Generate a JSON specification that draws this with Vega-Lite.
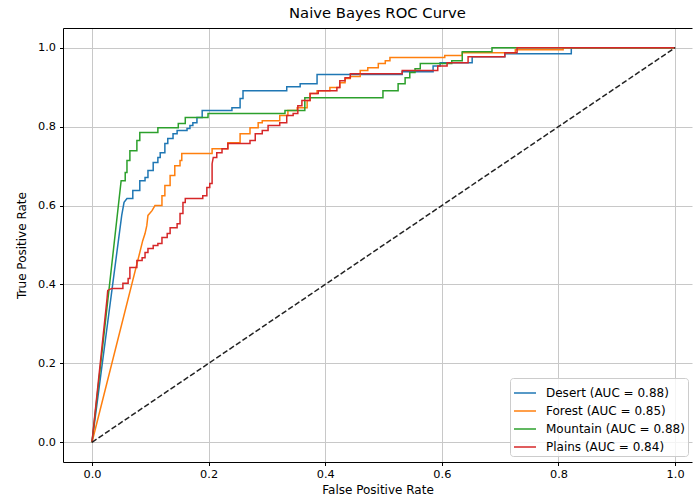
{
  "$schema": "https://vega.github.io/schema/vega-lite/v6.json",
  "autosize": "none",
  "padding": {"left": 63, "top": 28, "right": 1, "bottom": 37},
  "width": 629,
  "height": 434,
  "title": {"text": "Naive Bayes ROC Curve", "fontSize": 14.8, "font": "DejaVu Sans", "fontWeight": "normal", "offset": 7, "color": "#000"},
  "config": {"view": {"stroke": null}, "font": "DejaVu Sans"},
  "resolve": {"axis": {"x": "independent"}},
  "layer": [
    {
      "data": {"values": [
        {"c":"Desert (AUC = 0.88)","x":0,"y":0},{"c":"Desert (AUC = 0.88)","x":0.051,"y":0.575},{"c":"Desert (AUC = 0.88)","x":0.055,"y":0.608},{"c":"Desert (AUC = 0.88)","x":0.060,"y":0.618},{"c":"Desert (AUC = 0.88)","x":0.070,"y":0.618},{"c":"Desert (AUC = 0.88)","x":0.070,"y":0.638},{"c":"Desert (AUC = 0.88)","x":0.082,"y":0.638},{"c":"Desert (AUC = 0.88)","x":0.082,"y":0.663},{"c":"Desert (AUC = 0.88)","x":0.091,"y":0.663},{"c":"Desert (AUC = 0.88)","x":0.091,"y":0.671},{"c":"Desert (AUC = 0.88)","x":0.096,"y":0.671},{"c":"Desert (AUC = 0.88)","x":0.096,"y":0.689},{"c":"Desert (AUC = 0.88)","x":0.105,"y":0.689},{"c":"Desert (AUC = 0.88)","x":0.105,"y":0.709},{"c":"Desert (AUC = 0.88)","x":0.113,"y":0.709},{"c":"Desert (AUC = 0.88)","x":0.113,"y":0.722},{"c":"Desert (AUC = 0.88)","x":0.117,"y":0.722},{"c":"Desert (AUC = 0.88)","x":0.117,"y":0.734},{"c":"Desert (AUC = 0.88)","x":0.125,"y":0.734},{"c":"Desert (AUC = 0.88)","x":0.125,"y":0.757},{"c":"Desert (AUC = 0.88)","x":0.130,"y":0.757},{"c":"Desert (AUC = 0.88)","x":0.130,"y":0.770},{"c":"Desert (AUC = 0.88)","x":0.139,"y":0.770},{"c":"Desert (AUC = 0.88)","x":0.139,"y":0.782},{"c":"Desert (AUC = 0.88)","x":0.146,"y":0.782},{"c":"Desert (AUC = 0.88)","x":0.146,"y":0.790},{"c":"Desert (AUC = 0.88)","x":0.163,"y":0.790},{"c":"Desert (AUC = 0.88)","x":0.163,"y":0.795},{"c":"Desert (AUC = 0.88)","x":0.168,"y":0.795},{"c":"Desert (AUC = 0.88)","x":0.168,"y":0.803},{"c":"Desert (AUC = 0.88)","x":0.173,"y":0.803},{"c":"Desert (AUC = 0.88)","x":0.173,"y":0.810},{"c":"Desert (AUC = 0.88)","x":0.180,"y":0.810},{"c":"Desert (AUC = 0.88)","x":0.180,"y":0.823},{"c":"Desert (AUC = 0.88)","x":0.189,"y":0.823},{"c":"Desert (AUC = 0.88)","x":0.189,"y":0.841},{"c":"Desert (AUC = 0.88)","x":0.240,"y":0.841},{"c":"Desert (AUC = 0.88)","x":0.240,"y":0.848},{"c":"Desert (AUC = 0.88)","x":0.254,"y":0.848},{"c":"Desert (AUC = 0.88)","x":0.254,"y":0.871},{"c":"Desert (AUC = 0.88)","x":0.259,"y":0.871},{"c":"Desert (AUC = 0.88)","x":0.259,"y":0.891},{"c":"Desert (AUC = 0.88)","x":0.334,"y":0.891},{"c":"Desert (AUC = 0.88)","x":0.334,"y":0.901},{"c":"Desert (AUC = 0.88)","x":0.357,"y":0.901},{"c":"Desert (AUC = 0.88)","x":0.357,"y":0.909},{"c":"Desert (AUC = 0.88)","x":0.386,"y":0.909},{"c":"Desert (AUC = 0.88)","x":0.386,"y":0.932},{"c":"Desert (AUC = 0.88)","x":0.532,"y":0.932},{"c":"Desert (AUC = 0.88)","x":0.532,"y":0.939},{"c":"Desert (AUC = 0.88)","x":0.585,"y":0.939},{"c":"Desert (AUC = 0.88)","x":0.585,"y":0.954},{"c":"Desert (AUC = 0.88)","x":0.597,"y":0.954},{"c":"Desert (AUC = 0.88)","x":0.597,"y":0.962},{"c":"Desert (AUC = 0.88)","x":0.652,"y":0.962},{"c":"Desert (AUC = 0.88)","x":0.652,"y":0.977},{"c":"Desert (AUC = 0.88)","x":0.708,"y":0.977},{"c":"Desert (AUC = 0.88)","x":0.708,"y":0.985},{"c":"Desert (AUC = 0.88)","x":0.822,"y":0.985},{"c":"Desert (AUC = 0.88)","x":0.822,"y":1.0},{"c":"Desert (AUC = 0.88)","x":1.0,"y":1.0},
        {"c":"Forest (AUC = 0.85)","x":0,"y":0},{"c":"Forest (AUC = 0.85)","x":0.082,"y":0.481},{"c":"Forest (AUC = 0.85)","x":0.087,"y":0.511},{"c":"Forest (AUC = 0.85)","x":0.091,"y":0.529},{"c":"Forest (AUC = 0.85)","x":0.094,"y":0.549},{"c":"Forest (AUC = 0.85)","x":0.096,"y":0.575},{"c":"Forest (AUC = 0.85)","x":0.103,"y":0.587},{"c":"Forest (AUC = 0.85)","x":0.108,"y":0.600},{"c":"Forest (AUC = 0.85)","x":0.120,"y":0.600},{"c":"Forest (AUC = 0.85)","x":0.120,"y":0.625},{"c":"Forest (AUC = 0.85)","x":0.125,"y":0.625},{"c":"Forest (AUC = 0.85)","x":0.125,"y":0.651},{"c":"Forest (AUC = 0.85)","x":0.134,"y":0.651},{"c":"Forest (AUC = 0.85)","x":0.134,"y":0.676},{"c":"Forest (AUC = 0.85)","x":0.142,"y":0.676},{"c":"Forest (AUC = 0.85)","x":0.142,"y":0.701},{"c":"Forest (AUC = 0.85)","x":0.151,"y":0.701},{"c":"Forest (AUC = 0.85)","x":0.151,"y":0.714},{"c":"Forest (AUC = 0.85)","x":0.154,"y":0.714},{"c":"Forest (AUC = 0.85)","x":0.154,"y":0.732},{"c":"Forest (AUC = 0.85)","x":0.206,"y":0.732},{"c":"Forest (AUC = 0.85)","x":0.206,"y":0.744},{"c":"Forest (AUC = 0.85)","x":0.233,"y":0.744},{"c":"Forest (AUC = 0.85)","x":0.233,"y":0.759},{"c":"Forest (AUC = 0.85)","x":0.254,"y":0.759},{"c":"Forest (AUC = 0.85)","x":0.254,"y":0.782},{"c":"Forest (AUC = 0.85)","x":0.271,"y":0.782},{"c":"Forest (AUC = 0.85)","x":0.271,"y":0.797},{"c":"Forest (AUC = 0.85)","x":0.285,"y":0.797},{"c":"Forest (AUC = 0.85)","x":0.285,"y":0.810},{"c":"Forest (AUC = 0.85)","x":0.292,"y":0.810},{"c":"Forest (AUC = 0.85)","x":0.292,"y":0.815},{"c":"Forest (AUC = 0.85)","x":0.322,"y":0.815},{"c":"Forest (AUC = 0.85)","x":0.322,"y":0.828},{"c":"Forest (AUC = 0.85)","x":0.336,"y":0.828},{"c":"Forest (AUC = 0.85)","x":0.336,"y":0.841},{"c":"Forest (AUC = 0.85)","x":0.352,"y":0.841},{"c":"Forest (AUC = 0.85)","x":0.352,"y":0.848},{"c":"Forest (AUC = 0.85)","x":0.369,"y":0.848},{"c":"Forest (AUC = 0.85)","x":0.369,"y":0.866},{"c":"Forest (AUC = 0.85)","x":0.374,"y":0.866},{"c":"Forest (AUC = 0.85)","x":0.374,"y":0.884},{"c":"Forest (AUC = 0.85)","x":0.386,"y":0.884},{"c":"Forest (AUC = 0.85)","x":0.386,"y":0.891},{"c":"Forest (AUC = 0.85)","x":0.408,"y":0.891},{"c":"Forest (AUC = 0.85)","x":0.408,"y":0.899},{"c":"Forest (AUC = 0.85)","x":0.425,"y":0.899},{"c":"Forest (AUC = 0.85)","x":0.425,"y":0.911},{"c":"Forest (AUC = 0.85)","x":0.434,"y":0.911},{"c":"Forest (AUC = 0.85)","x":0.434,"y":0.922},{"c":"Forest (AUC = 0.85)","x":0.443,"y":0.922},{"c":"Forest (AUC = 0.85)","x":0.443,"y":0.927},{"c":"Forest (AUC = 0.85)","x":0.460,"y":0.927},{"c":"Forest (AUC = 0.85)","x":0.460,"y":0.942},{"c":"Forest (AUC = 0.85)","x":0.473,"y":0.942},{"c":"Forest (AUC = 0.85)","x":0.473,"y":0.949},{"c":"Forest (AUC = 0.85)","x":0.491,"y":0.949},{"c":"Forest (AUC = 0.85)","x":0.491,"y":0.960},{"c":"Forest (AUC = 0.85)","x":0.503,"y":0.960},{"c":"Forest (AUC = 0.85)","x":0.503,"y":0.967},{"c":"Forest (AUC = 0.85)","x":0.511,"y":0.967},{"c":"Forest (AUC = 0.85)","x":0.511,"y":0.975},{"c":"Forest (AUC = 0.85)","x":0.605,"y":0.975},{"c":"Forest (AUC = 0.85)","x":0.605,"y":0.980},{"c":"Forest (AUC = 0.85)","x":0.635,"y":0.980},{"c":"Forest (AUC = 0.85)","x":0.635,"y":0.987},{"c":"Forest (AUC = 0.85)","x":0.726,"y":0.987},{"c":"Forest (AUC = 0.85)","x":0.726,"y":0.995},{"c":"Forest (AUC = 0.85)","x":0.808,"y":0.995},{"c":"Forest (AUC = 0.85)","x":0.808,"y":1.0},{"c":"Forest (AUC = 0.85)","x":1.0,"y":1.0},
        {"c":"Mountain (AUC = 0.88)","x":0,"y":0},{"c":"Mountain (AUC = 0.88)","x":0.050,"y":0.663},{"c":"Mountain (AUC = 0.88)","x":0.057,"y":0.663},{"c":"Mountain (AUC = 0.88)","x":0.057,"y":0.684},{"c":"Mountain (AUC = 0.88)","x":0.060,"y":0.684},{"c":"Mountain (AUC = 0.88)","x":0.060,"y":0.714},{"c":"Mountain (AUC = 0.88)","x":0.065,"y":0.714},{"c":"Mountain (AUC = 0.88)","x":0.065,"y":0.739},{"c":"Mountain (AUC = 0.88)","x":0.077,"y":0.739},{"c":"Mountain (AUC = 0.88)","x":0.077,"y":0.765},{"c":"Mountain (AUC = 0.88)","x":0.082,"y":0.765},{"c":"Mountain (AUC = 0.88)","x":0.082,"y":0.785},{"c":"Mountain (AUC = 0.88)","x":0.113,"y":0.785},{"c":"Mountain (AUC = 0.88)","x":0.113,"y":0.797},{"c":"Mountain (AUC = 0.88)","x":0.148,"y":0.797},{"c":"Mountain (AUC = 0.88)","x":0.148,"y":0.808},{"c":"Mountain (AUC = 0.88)","x":0.160,"y":0.808},{"c":"Mountain (AUC = 0.88)","x":0.160,"y":0.823},{"c":"Mountain (AUC = 0.88)","x":0.199,"y":0.823},{"c":"Mountain (AUC = 0.88)","x":0.199,"y":0.833},{"c":"Mountain (AUC = 0.88)","x":0.331,"y":0.833},{"c":"Mountain (AUC = 0.88)","x":0.331,"y":0.841},{"c":"Mountain (AUC = 0.88)","x":0.365,"y":0.841},{"c":"Mountain (AUC = 0.88)","x":0.365,"y":0.873},{"c":"Mountain (AUC = 0.88)","x":0.499,"y":0.873},{"c":"Mountain (AUC = 0.88)","x":0.499,"y":0.891},{"c":"Mountain (AUC = 0.88)","x":0.525,"y":0.891},{"c":"Mountain (AUC = 0.88)","x":0.525,"y":0.909},{"c":"Mountain (AUC = 0.88)","x":0.537,"y":0.909},{"c":"Mountain (AUC = 0.88)","x":0.537,"y":0.924},{"c":"Mountain (AUC = 0.88)","x":0.545,"y":0.924},{"c":"Mountain (AUC = 0.88)","x":0.545,"y":0.937},{"c":"Mountain (AUC = 0.88)","x":0.554,"y":0.937},{"c":"Mountain (AUC = 0.88)","x":0.554,"y":0.947},{"c":"Mountain (AUC = 0.88)","x":0.563,"y":0.947},{"c":"Mountain (AUC = 0.88)","x":0.563,"y":0.960},{"c":"Mountain (AUC = 0.88)","x":0.617,"y":0.960},{"c":"Mountain (AUC = 0.88)","x":0.617,"y":0.967},{"c":"Mountain (AUC = 0.88)","x":0.635,"y":0.967},{"c":"Mountain (AUC = 0.88)","x":0.635,"y":0.990},{"c":"Mountain (AUC = 0.88)","x":0.686,"y":0.990},{"c":"Mountain (AUC = 0.88)","x":0.686,"y":1.0},{"c":"Mountain (AUC = 0.88)","x":1.0,"y":1.0},
        {"c":"Plains (AUC = 0.84)","x":0,"y":0},{"c":"Plains (AUC = 0.84)","x":0.026,"y":0.367},{"c":"Plains (AUC = 0.84)","x":0.027,"y":0.385},{"c":"Plains (AUC = 0.84)","x":0.034,"y":0.390},{"c":"Plains (AUC = 0.84)","x":0.053,"y":0.390},{"c":"Plains (AUC = 0.84)","x":0.053,"y":0.403},{"c":"Plains (AUC = 0.84)","x":0.062,"y":0.403},{"c":"Plains (AUC = 0.84)","x":0.062,"y":0.415},{"c":"Plains (AUC = 0.84)","x":0.065,"y":0.415},{"c":"Plains (AUC = 0.84)","x":0.065,"y":0.443},{"c":"Plains (AUC = 0.84)","x":0.077,"y":0.443},{"c":"Plains (AUC = 0.84)","x":0.077,"y":0.461},{"c":"Plains (AUC = 0.84)","x":0.086,"y":0.461},{"c":"Plains (AUC = 0.84)","x":0.086,"y":0.468},{"c":"Plains (AUC = 0.84)","x":0.091,"y":0.468},{"c":"Plains (AUC = 0.84)","x":0.091,"y":0.481},{"c":"Plains (AUC = 0.84)","x":0.096,"y":0.481},{"c":"Plains (AUC = 0.84)","x":0.096,"y":0.491},{"c":"Plains (AUC = 0.84)","x":0.105,"y":0.491},{"c":"Plains (AUC = 0.84)","x":0.105,"y":0.499},{"c":"Plains (AUC = 0.84)","x":0.113,"y":0.499},{"c":"Plains (AUC = 0.84)","x":0.113,"y":0.504},{"c":"Plains (AUC = 0.84)","x":0.120,"y":0.504},{"c":"Plains (AUC = 0.84)","x":0.120,"y":0.519},{"c":"Plains (AUC = 0.84)","x":0.129,"y":0.519},{"c":"Plains (AUC = 0.84)","x":0.129,"y":0.529},{"c":"Plains (AUC = 0.84)","x":0.134,"y":0.529},{"c":"Plains (AUC = 0.84)","x":0.134,"y":0.544},{"c":"Plains (AUC = 0.84)","x":0.146,"y":0.544},{"c":"Plains (AUC = 0.84)","x":0.146,"y":0.554},{"c":"Plains (AUC = 0.84)","x":0.151,"y":0.554},{"c":"Plains (AUC = 0.84)","x":0.151,"y":0.580},{"c":"Plains (AUC = 0.84)","x":0.156,"y":0.580},{"c":"Plains (AUC = 0.84)","x":0.156,"y":0.608},{"c":"Plains (AUC = 0.84)","x":0.160,"y":0.608},{"c":"Plains (AUC = 0.84)","x":0.160,"y":0.618},{"c":"Plains (AUC = 0.84)","x":0.190,"y":0.618},{"c":"Plains (AUC = 0.84)","x":0.190,"y":0.625},{"c":"Plains (AUC = 0.84)","x":0.197,"y":0.625},{"c":"Plains (AUC = 0.84)","x":0.197,"y":0.646},{"c":"Plains (AUC = 0.84)","x":0.202,"y":0.646},{"c":"Plains (AUC = 0.84)","x":0.202,"y":0.656},{"c":"Plains (AUC = 0.84)","x":0.206,"y":0.656},{"c":"Plains (AUC = 0.84)","x":0.206,"y":0.706},{"c":"Plains (AUC = 0.84)","x":0.208,"y":0.722},{"c":"Plains (AUC = 0.84)","x":0.214,"y":0.722},{"c":"Plains (AUC = 0.84)","x":0.214,"y":0.734},{"c":"Plains (AUC = 0.84)","x":0.223,"y":0.734},{"c":"Plains (AUC = 0.84)","x":0.223,"y":0.744},{"c":"Plains (AUC = 0.84)","x":0.233,"y":0.744},{"c":"Plains (AUC = 0.84)","x":0.233,"y":0.757},{"c":"Plains (AUC = 0.84)","x":0.271,"y":0.757},{"c":"Plains (AUC = 0.84)","x":0.271,"y":0.765},{"c":"Plains (AUC = 0.84)","x":0.280,"y":0.765},{"c":"Plains (AUC = 0.84)","x":0.280,"y":0.782},{"c":"Plains (AUC = 0.84)","x":0.292,"y":0.782},{"c":"Plains (AUC = 0.84)","x":0.292,"y":0.790},{"c":"Plains (AUC = 0.84)","x":0.302,"y":0.790},{"c":"Plains (AUC = 0.84)","x":0.302,"y":0.803},{"c":"Plains (AUC = 0.84)","x":0.322,"y":0.803},{"c":"Plains (AUC = 0.84)","x":0.322,"y":0.810},{"c":"Plains (AUC = 0.84)","x":0.334,"y":0.810},{"c":"Plains (AUC = 0.84)","x":0.334,"y":0.828},{"c":"Plains (AUC = 0.84)","x":0.345,"y":0.828},{"c":"Plains (AUC = 0.84)","x":0.345,"y":0.833},{"c":"Plains (AUC = 0.84)","x":0.353,"y":0.833},{"c":"Plains (AUC = 0.84)","x":0.353,"y":0.853},{"c":"Plains (AUC = 0.84)","x":0.360,"y":0.853},{"c":"Plains (AUC = 0.84)","x":0.360,"y":0.866},{"c":"Plains (AUC = 0.84)","x":0.374,"y":0.866},{"c":"Plains (AUC = 0.84)","x":0.374,"y":0.884},{"c":"Plains (AUC = 0.84)","x":0.388,"y":0.884},{"c":"Plains (AUC = 0.84)","x":0.388,"y":0.891},{"c":"Plains (AUC = 0.84)","x":0.420,"y":0.891},{"c":"Plains (AUC = 0.84)","x":0.420,"y":0.899},{"c":"Plains (AUC = 0.84)","x":0.425,"y":0.899},{"c":"Plains (AUC = 0.84)","x":0.425,"y":0.916},{"c":"Plains (AUC = 0.84)","x":0.434,"y":0.916},{"c":"Plains (AUC = 0.84)","x":0.434,"y":0.924},{"c":"Plains (AUC = 0.84)","x":0.443,"y":0.924},{"c":"Plains (AUC = 0.84)","x":0.443,"y":0.934},{"c":"Plains (AUC = 0.84)","x":0.532,"y":0.934},{"c":"Plains (AUC = 0.84)","x":0.532,"y":0.942},{"c":"Plains (AUC = 0.84)","x":0.593,"y":0.942},{"c":"Plains (AUC = 0.84)","x":0.593,"y":0.954},{"c":"Plains (AUC = 0.84)","x":0.609,"y":0.954},{"c":"Plains (AUC = 0.84)","x":0.609,"y":0.962},{"c":"Plains (AUC = 0.84)","x":0.645,"y":0.962},{"c":"Plains (AUC = 0.84)","x":0.645,"y":0.977},{"c":"Plains (AUC = 0.84)","x":0.708,"y":0.977},{"c":"Plains (AUC = 0.84)","x":0.708,"y":0.987},{"c":"Plains (AUC = 0.84)","x":0.729,"y":0.987},{"c":"Plains (AUC = 0.84)","x":0.729,"y":1.0},{"c":"Plains (AUC = 0.84)","x":1.0,"y":1.0}
      ]},
      "mark": {"type": "line", "strokeWidth": 1.5},
      "encoding": {
        "x": {"field": "x", "type": "quantitative", "scale": {"domain": [-0.0497, 1.029], "nice": false, "zero": false},
              "axis": {"orient": "bottom", "title": "False Positive Rate", "values": [0, 0.2, 0.4, 0.6, 0.8, 1.0], "format": ".1f",
                       "grid": true, "gridColor": "#c8c8c8", "gridWidth": 1, "domainColor": "#000", "tickColor": "#000", "tickSize": 3.5,
                       "labelFontSize": 11.3, "labelColor": "#000", "labelFont": "DejaVu Sans", "labelPadding": 3,
                       "titleFontSize": 12, "titleFontWeight": "normal", "titleColor": "#000", "titleFont": "DejaVu Sans", "titlePadding": 5}},
        "y": {"field": "y", "type": "quantitative", "scale": {"domain": [-0.05, 1.05], "nice": false, "zero": false},
              "axis": {"title": "True Positive Rate", "values": [0, 0.2, 0.4, 0.6, 0.8, 1.0], "format": ".1f",
                       "grid": true, "gridColor": "#c8c8c8", "gridWidth": 1, "domainColor": "#000", "tickColor": "#000", "tickSize": 3.5,
                       "labelFontSize": 11.3, "labelColor": "#000", "labelFont": "DejaVu Sans", "labelPadding": 4,
                       "titleFontSize": 12, "titleFontWeight": "normal", "titleColor": "#000", "titleFont": "DejaVu Sans", "titlePadding": 9}},
        "color": {"field": "c", "type": "nominal",
                  "scale": {"domain": ["Desert (AUC = 0.88)", "Forest (AUC = 0.85)", "Mountain (AUC = 0.88)", "Plains (AUC = 0.84)"],
                            "range": ["#1f77b4", "#ff7f0e", "#2ca02c", "#d62728"]},
                  "legend": {"orient": "none", "legendX": 447, "legendY": 350, "title": null, "symbolType": "stroke", "symbolSize": 484,
                             "symbolStrokeWidth": 1.5, "labelFontSize": 12, "labelFont": "DejaVu Sans", "labelColor": "#000",
                             "strokeColor": "#cccccc", "fillColor": "rgba(255,255,255,0.8)", "cornerRadius": 3, "padding": 3,
                             "rowPadding": 0, "labelOffset": 9}},
        "order": [{"field": "x", "type": "quantitative"}, {"field": "y", "type": "quantitative"}]
      }
    },
    {
      "data": {"values": [{"x": 0, "y": 0}, {"x": 1, "y": 1}]},
      "mark": {"type": "line", "color": "#222", "strokeWidth": 1.5, "strokeDash": [5.5, 2.4]},
      "encoding": {
        "x": {"field": "x", "type": "quantitative", "scale": {"domain": [-0.0497, 1.029], "nice": false, "zero": false},
              "axis": {"orient": "top", "labels": false, "ticks": false, "grid": false, "domain": true, "domainColor": "#000", "title": null}},
        "y": {"field": "y", "type": "quantitative", "scale": {"domain": [-0.05, 1.05], "nice": false, "zero": false},
              "axis": {"title": "True Positive Rate", "values": [0, 0.2, 0.4, 0.6, 0.8, 1.0], "format": ".1f",
                       "grid": true, "gridColor": "#c8c8c8", "gridWidth": 1, "domainColor": "#000", "tickColor": "#000", "tickSize": 3.5,
                       "labelFontSize": 11.3, "labelColor": "#000", "labelFont": "DejaVu Sans", "labelPadding": 4,
                       "titleFontSize": 12, "titleFontWeight": "normal", "titleColor": "#000", "titleFont": "DejaVu Sans", "titlePadding": 9}}
      }
    }
  ]
}
